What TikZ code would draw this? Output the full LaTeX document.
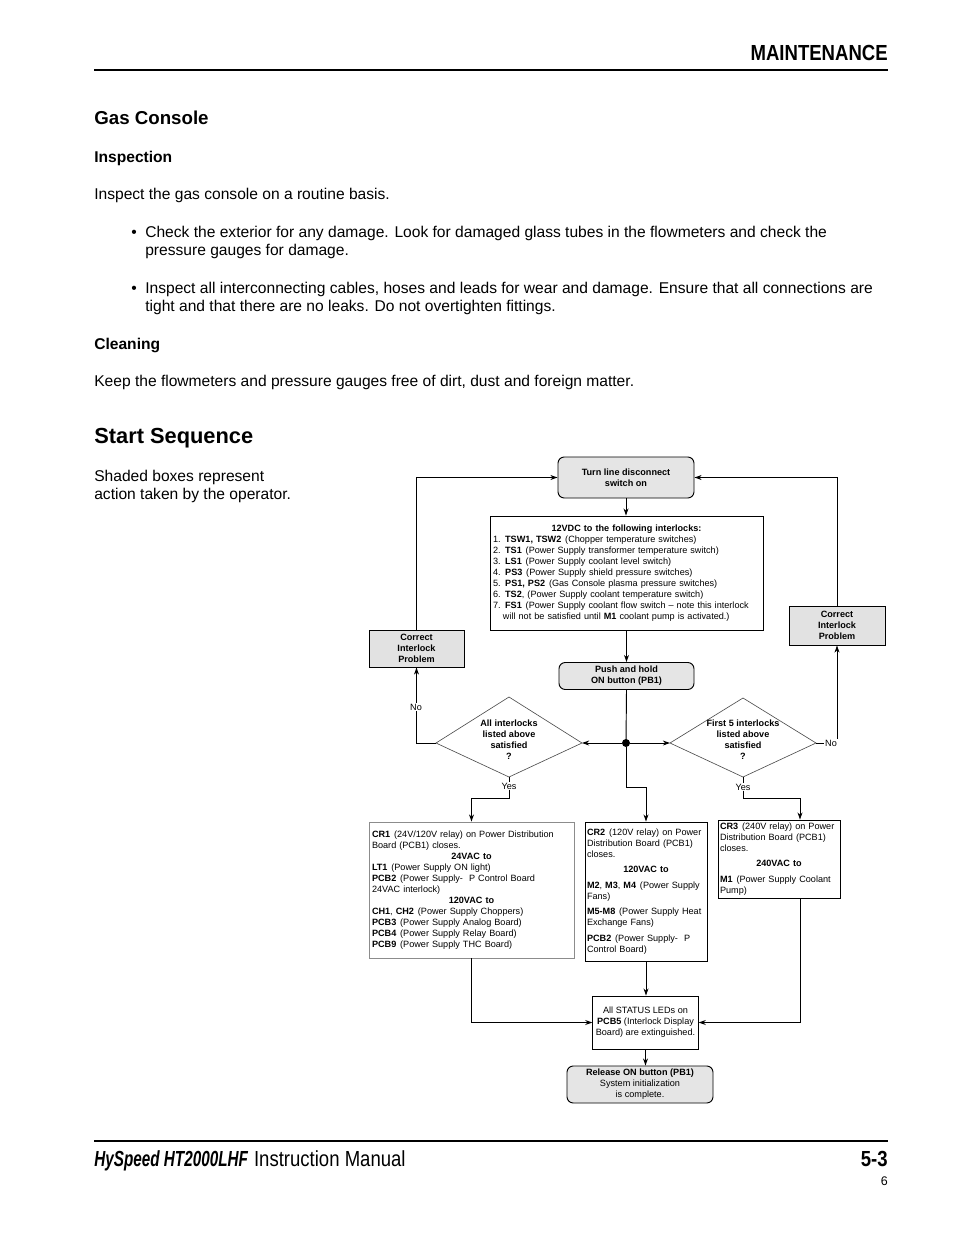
\documentclass[tikz,border=0pt]{standalone}
\usepackage{fontspec}
\setmainfont{Liberation Sans}
\newfontfamily\condfont[FakeStretch=0.85]{Liberation Sans}
\newfontfamily\condbifont[FakeStretch=0.70]{Liberation Sans}
\usetikzlibrary{arrows.meta,calc}
\definecolor{boxgray}{RGB}{229,229,229}
\definecolor{corrgray}{RGB}{226,226,226}
\def\pxu{0.6415pt}
\newcommand\sgap{\hspace{0.42em}}
\begin{document}
\begin{tikzpicture}[x=0.6415pt,y=-0.6415pt,
  body/.style={anchor=base west, inner sep=0pt, font=\fontsize{10}{12}\selectfont},
  head/.style={anchor=base west, inner sep=0pt, font=\bfseries\fontsize{10}{12}\selectfont},
  fcfont/.style={font=\fontsize{5.85}{7.05}\selectfont},
  fcbox/.style={fcfont, draw, line width=0.6pt, inner ysep=0pt, inner xsep=3*\pxu},
  opbox/.style={fcbox, fill=boxgray, rounded corners=4pt, align=center, font=\bfseries\fontsize{5.85}{7.05}\selectfont},
  corrbox/.style={fcbox, fill=corrgray, align=center, font=\bfseries\fontsize{5.85}{7.05}\selectfont},
  infobox/.style={fcbox, fill=white, align=left},
  lbl/.style={fcfont, inner sep=1*\pxu, fill=white},
  dtext/.style={align=center, inner sep=0pt, font=\bfseries\fontsize{5.85}{7.05}\selectfont},
  conn/.style={line width=0.6pt},
  arr/.style={conn, -{Stealth[length=4.6pt,width=3.2pt]}},
  diam/.style={draw=black!70, line width=0.4pt}
]
\useasboundingbox (0,0) rectangle (954,1235);
\fill[white] (0,0) rectangle (954,1235);

% ---------- header ----------
\node[anchor=base east, inner sep=0pt, font=\condfont\bfseries\fontsize{14}{16}\selectfont] (hdr) at (888,60.8) {MAINTENANCE};
\draw[line width=1pt] (94,70) -- (888,70);

\node[anchor=base west, inner sep=0pt, font=\bfseries\fontsize{12}{14}\selectfont] (gas) at (94,124.7) {Gas Console};
\node[head] (insp) at (94,162.5) {Inspection};
\node[body] (t1) at (94,199.5) {Inspect the gas console on a routine basis.};
\node[body] (b1) at (131,237.5) {•};
\node[body] (t2) at (145,237.5) {Check the exterior for any damage. Look for damaged glass tubes in the flowmeters and check the};
\node[body] (t3) at (145,255.5) {pressure gauges for damage.};
\node[body] (b2) at (131,293.5) {•};
\node[body] (t4) at (145,293.5) {Inspect all interconnecting cables, hoses and leads for wear and damage. Ensure that all connections are};
\node[body] (t5) at (145,311.5) {tight and that there are no leaks. Do not overtighten fittings.};
\node[head] (clean) at (94,349.5) {Cleaning};
\node[body] (t6) at (94,386.5) {Keep the flowmeters and pressure gauges free of dirt, dust and foreign matter.};

\node[anchor=base west, inner sep=0pt, font=\bfseries\fontsize{14}{16}\selectfont] (start) at (94,443.8) {Start Sequence};
\node[body] (s1) at (94,481.5) {Shaded boxes represent};
\node[body] (s2) at (94,499.5) {action taken by the operator.};

% ---------- flowchart ----------
\node[opbox, minimum width=136*\pxu, minimum height=41*\pxu] (turn) at (626,477.5)
  {Turn line disconnect\\switch on};

\node[infobox, minimum height=114*\pxu, text width=267*\pxu] (inter) at (626.5,573)
  {\makebox[\hsize]{\textbf{12VDC to the following interlocks:}}\\
   1. \textbf{TSW1, TSW2}\sgap(Chopper temperature switches)\\
   2. \textbf{TS1}\sgap(Power Supply transformer temperature switch)\\
   3. \textbf{LS1}\sgap(Power Supply coolant level switch)\\
   4. \textbf{PS3}\sgap(Power Supply shield pressure switches)\\
   5. \textbf{PS1, PS2}\sgap(Gas Console plasma pressure switches)\\
   6. \textbf{TS2}, (Power Supply coolant temperature switch)\\
   7. \textbf{FS1}\sgap(Power Supply coolant flow switch – note this interlock\\
   \hspace*{6.4pt}will not be satisfied until \textbf{M1} coolant pump is activated.)};

\node[opbox, minimum width=135*\pxu, minimum height=27*\pxu] (push) at (626.5,676)
  {Push and hold\\ON button (PB1)};

\node[corrbox, minimum width=95*\pxu, minimum height=37*\pxu] (corrL) at (416.5,648.5)
  {Correct\\Interlock\\Problem};
\node[corrbox, minimum width=96*\pxu, minimum height=39*\pxu] (corrR) at (837,625.5)
  {Correct\\Interlock\\Problem};

\node[circle, fill=black, inner sep=0pt, minimum size=8*\pxu] (dot) at (626,743) {};

% left decision (kite)
\coordinate (dLt) at (509,697);
\coordinate (dLl) at (436,743);
\coordinate (dLb) at (509,777);
\coordinate (dLr) at (582,743);
\draw[diam] (dLt) -- (dLr) -- (dLb) -- (dLl) -- cycle;
\node[dtext] (dLtext) at (509,740) {All interlocks\\listed above\\satisfied\\?};

% right decision (kite)
\coordinate (dRt) at (743,698);
\coordinate (dRl) at (670,743);
\coordinate (dRb) at (743,777);
\coordinate (dRr) at (816,743);
\draw[diam] (dRt) -- (dRr) -- (dRb) -- (dRl) -- cycle;
\node[dtext] (dRtext) at (743,740) {First 5 interlocks\\listed above\\satisfied\\?};

\node[infobox, draw=black!45, minimum height=136*\pxu, text width=199*\pxu] (cr1) at (471.5,890)
  {\textbf{CR1}\sgap(24V/120V relay) on Power Distribution\\
   Board (PCB1) closes.\\
   \makebox[\hsize]{\textbf{24VAC to}}\\
   \textbf{LT1}\sgap(Power Supply ON light)\\
   \textbf{PCB2}\sgap(Power Supply-\ \ P Control Board\\
   24VAC interlock)\\
   \makebox[\hsize]{\textbf{120VAC to}}\\
   \textbf{CH1}, \textbf{CH2}\sgap(Power Supply Choppers)\\
   \textbf{PCB3}\sgap(Power Supply Analog Board)\\
   \textbf{PCB4}\sgap(Power Supply Relay Board)\\
   \textbf{PCB9}\sgap(Power Supply THC Board)\\[3pt]};

\node[infobox, inner xsep=2*\pxu, minimum height=139*\pxu, text width=118*\pxu] (cr2) at (646,891.5)
  {\mbox{\textbf{CR2}\sgap(120V relay) on Power}\\
   \mbox{Distribution Board (PCB1)}\\
   closes.\\[2.9pt]
   \makebox[\hsize]{\textbf{120VAC to}}\\[2.9pt]
   \mbox{\textbf{M2}, \textbf{M3}, \textbf{M4}\sgap(Power Supply}\\
   Fans)\\[2.9pt]
   \mbox{\textbf{M5-M8}\sgap(Power Supply Heat}\\
   Exchange Fans)\\[2.9pt]
   \mbox{\textbf{PCB2}\sgap(Power Supply-\ \ P}\\
   Control Board)\\[3pt]};

\node[infobox, inner xsep=2*\pxu, minimum height=78*\pxu, text width=118*\pxu] (cr3) at (779,859)
  {\mbox{\textbf{CR3}\sgap(240V relay) on Power}\\
   \mbox{Distribution Board (PCB1)}\\
   closes.\\[2.9pt]
   \makebox[\hsize]{\textbf{240VAC to}}\\[2.9pt]
   \mbox{\textbf{M1}\sgap(Power Supply Coolant}\\
   Pump)\\[3pt]};

\node[fcbox, fill=white, align=center, minimum width=103*\pxu, minimum height=53*\pxu] (status) at (645.5,1022.5)
  {All STATUS LEDs on\\\textbf{PCB5} (Interlock Display\\Board) are extinguished.};

\node[fcbox, fill=boxgray, rounded corners=4pt, align=center, minimum width=146*\pxu, minimum height=37*\pxu] (release) at (640,1084.5)
  {\textbf{Release ON button (PB1)}\\System initialization\\is complete.};

% ---------- connectors ----------
\draw[arr] (corrL.north) |- (turn.west);
\draw[arr] (corrR.north) |- (turn.east);
\draw[arr] (turn.south) -- (turn.south |- inter.north);
\draw[arr] (push.north |- inter.south) -- (push.north);
\draw[conn] (push.south) -- (dot.center);
\draw[arr] (dot) -- (dLr);
\draw[arr] (dot) -- (dRl);
\coordinate (j1) at (626,787);
\draw[arr] (dot) -- (j1) -| (cr2.north);

\coordinate (jL) at (509,798);
\draw[arr] (dLb) -- (jL) -| (cr1.north);
\draw[arr] (dLl) -| (corrL.south);
\node[lbl] (noL) at (416,707) {No};
\node[lbl] (yesL) at (509,786) {Yes};

\coordinate (jR) at (743,798);
\coordinate (c3in) at ($(cr3.north)+(21,0)$);
\draw[arr] (dRb) -- (jR) -| (c3in);
\coordinate (kR) at (837,743);
\draw[arr] (dRr) -- (kR) -- (corrR.south);
\node[lbl] (noR) at (831,743) {No};
\node[lbl] (yesR) at (743,787) {Yes};

\draw[arr] (cr1.south) |- (status.west);
\coordinate (c3out) at ($(cr3.south)+(21,0)$);
\draw[arr] (c3out) |- (status.east);
\draw[arr] (cr2.south) -- (cr2.south |- status.north);
\draw[arr] (status.south) -- (status.south |- release.north);

% ---------- footer ----------
\draw[line width=1pt] (94,1141) -- (888,1141);
\node[anchor=base west, inner sep=0pt, font=\fontsize{14}{16}\selectfont] (foot) at (94,1166.8)
  {{\condbifont\bfseries\itshape HySpeed HT2000LHF} {\condfont Instruction Manual}};
\node[anchor=base east, inner sep=0pt, font=\condfont\bfseries\fontsize{14}{16}\selectfont] (pg) at (888,1166.8) {5-3};
\node[anchor=base east, inner sep=0pt, font=\fontsize{8}{10}\selectfont] (pg6) at (888,1185.5) {6};
\end{tikzpicture}
\end{document}
